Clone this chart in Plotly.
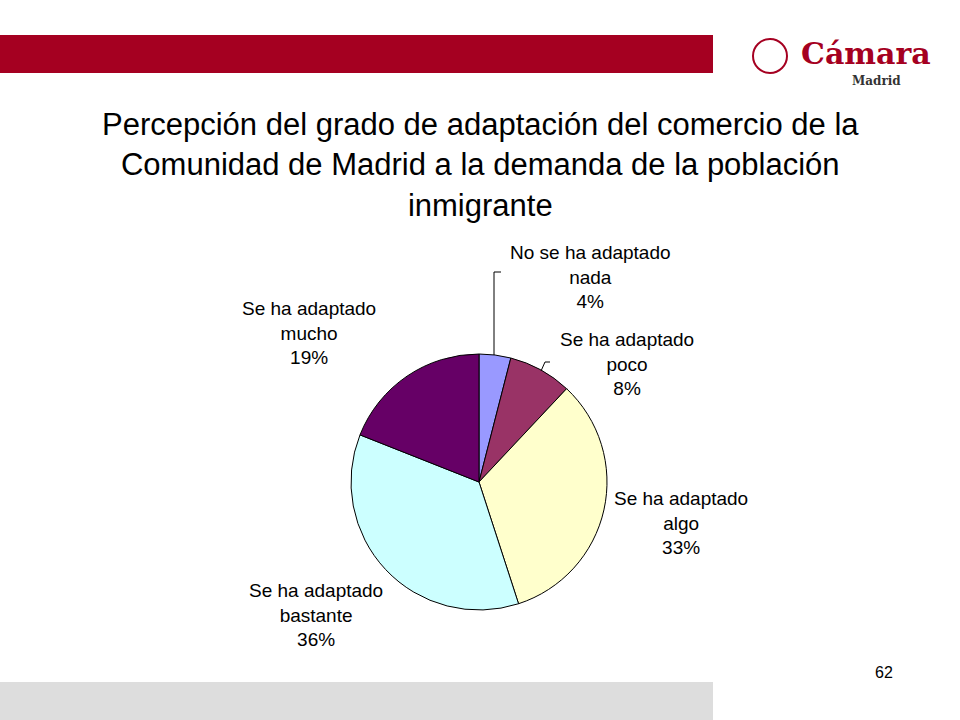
import plotly.graph_objects as go

categories = ["No se ha adaptado nada", "Se ha adaptado poco", "Se ha adaptado algo",
              "Se ha adaptado bastante", "Se ha adaptado mucho"]
values = [4, 8, 33, 36, 19]
colors = ["#9999FF", "#993366", "#FFFFCC", "#CCFFFF", "#660066"]
label_texts = ["No se ha adaptado<br>nada<br>4%", "Se ha adaptado<br>poco<br>8%",
               "Se ha adaptado<br>algo<br>33%", "Se ha adaptado<br>bastante<br>36%",
               "Se ha adaptado<br>mucho<br>19%"]
label_pos = [(590, 277), (627, 364), (681, 523), (316, 615), (309, 333)]

W, H = 960, 720
def px(x): return x / W
def py(y): return 1 - y / H

fig = go.Figure(go.Pie(
    labels=categories, values=values, sort=False, direction="clockwise", rotation=0,
    marker=dict(colors=colors, line=dict(color="black", width=1)),
    textinfo="none", hoverinfo="label+percent", showlegend=False,
    domain=dict(x=[px(351), px(607)], y=[py(610), py(354)]),
))

def A(x, y, text, size, family="Arial, Liberation Sans", color="black"):
    return dict(x=px(x), y=py(y), xref="paper", yref="paper", text=text, showarrow=False,
                xanchor="center", yanchor="middle", align="center",
                font=dict(family=family, size=size, color=color))

ann = [A(x, y, t, 19) for t, (x, y) in zip(label_texts, label_pos)]
ann.append(A(480, 165, "Percepción del grado de adaptación del comercio de la<br>Comunidad de Madrid a la demanda de la población<br>inmigrante", 31))
ann.append(A(884, 672, "62", 16))
ann.append(A(866, 54, "<b>Cámara</b>", 30, "DejaVu Serif", "#A50021"))
ann.append(A(876, 81, "<b>Madrid</b>", 12, "DejaVu Serif", "#333333"))

shapes = [
    dict(type="rect", xref="paper", yref="paper", x0=0, x1=px(713), y0=py(73), y1=py(35),
         fillcolor="#A50021", line_width=0),
    dict(type="rect", xref="paper", yref="paper", x0=0, x1=px(713), y0=0, y1=py(682),
         fillcolor="#DDDDDD", line_width=0),
    dict(type="circle", xref="paper", yref="paper", x0=px(753), x1=px(787), y0=py(73), y1=py(39),
         line=dict(color="#A50021", width=2)),
    dict(type="path", xref="paper", yref="paper",
         path=f"M {px(501)} {py(272)} L {px(494)} {py(272)} L {px(494)} {py(355)}",
         line=dict(color="black", width=1)),
    dict(type="path", xref="paper", yref="paper",
         path=f"M {px(550)} {py(362)} L {px(545)} {py(362)} L {px(541)} {py(371)}",
         line=dict(color="black", width=1)),
]

fig.update_layout(width=W, height=H, margin=dict(l=0, r=0, t=0, b=0),
                  paper_bgcolor="white", plot_bgcolor="white",
                  annotations=ann, shapes=shapes)
fig.write_html("out.html", config={"displayModeBar": False},
               post_script="document.body.style.margin='0';document.body.style.overflow='hidden';")
